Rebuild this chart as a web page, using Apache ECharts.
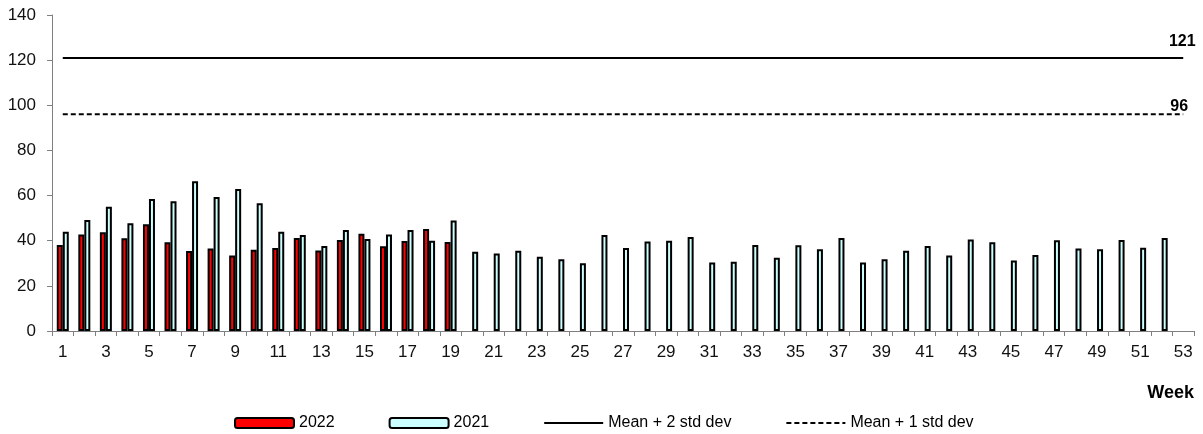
<!DOCTYPE html>
<html>
<head>
<meta charset="utf-8">
<script src="https://cdn.jsdelivr.net/npm/echarts@6/dist/echarts.min.js"></script>
<style>
html,body{margin:0;padding:0;background:#fff;}
#c{width:1203px;height:434px;}
</style>
</head>
<body>
<div id="c"></div>
<script>
const weeks = ['1','2','3','4','5','6','7','8','9','10','11','12','13','14','15','16','17','18','19','20','21','22','23','24','25','26','27','28','29','30','31','32','33','34','35','36','37','38','39','40','41','42','43','44','45','46','47','48','49','50','51','52','53'];
const y2022 = [38.1,42.8,43.7,41.1,47.3,39.3,35.4,36.6,33.4,36.0,36.8,41.2,35.7,40.3,43.1,37.5,39.9,45.2,39.4];
const y2021 = [44.0,49.2,55.1,47.7,58.5,57.5,66.3,59.4,62.9,56.6,44.0,42.5,37.7,44.7,40.8,42.7,44.8,40.0,49.0,
  35.1,34.3,35.6,32.9,31.8,30.0,42.5,36.8,39.6,40.0,41.6,30.3,30.7,38.1,32.5,38.0,36.2,41.2,30.4,31.8,35.6,37.7,33.4,40.5,39.3,31.2,33.7,40.2,36.5,36.2,40.3,36.9,41.2];
const mean2sd = 121;
const mean1sd = 96;
const yTicks = {min:0, max:140, interval:20};

const font = 'Liberation Sans, Arial, sans-serif';
const chart = echarts.init(document.getElementById('c'));

function thresholdSeries(name, value, type, labelDist, labelOffX) {
  const first = weeks[0], last = weeks[weeks.length-1];
  return {
    name: name,
    type: 'line',
    data: [[first, value], [last, value]],
    symbol: 'none',
    showSymbol: false,
    lineStyle: {color:'#000', width:2, type:type},
    itemStyle: {color:'#000'},
    markPoint: {
      silent: true,
      animation: false,
      symbol: 'rect',
      symbolSize: 0,
      label: {show:true, position:'top', distance:labelDist, offset:[labelOffX,0], color:'#000', fontWeight:'bold', fontSize:16, fontFamily:font, formatter: String(value)},
      data: [{coord:[last, value], value:value}]
    }
  };
}

chart.setOption({
  animation: false,
  textStyle: {fontFamily: font},
  grid: {left:52, right:9, top:15, bottom:103, containLabel:false},
  legend: {
    left: 234, top: 415, padding: 0,
    itemWidth: 59, itemHeight: 10, itemGap: 54,
    textStyle: {fontSize:16, color:'#000', fontFamily:font},
    data: [
      '2022', '2021',
      {name:'Mean + 2 std dev', itemStyle:{opacity:0}},
      {name:'Mean + 1 std dev', itemStyle:{opacity:0}}
    ]
  },
  graphic: [{
    type:'text', right: 9, top: 384,
    style:{text:'Week', font:'bold 18px Liberation Sans, Arial, sans-serif', fill:'#000'}
  }],
  xAxis: {
    type:'category',
    data: weeks,
    axisLine:{show:true, lineStyle:{color:'#808080', width:1}},
    axisTick:{show:true, length:5, interval:0, lineStyle:{color:'#808080'}},
    axisLabel:{interval:1, margin:13, fontSize:17, color:'#111', fontFamily:font},
    splitLine:{show:false}
  },
  yAxis: {
    type:'value',
    min: yTicks.min, max: yTicks.max, interval: yTicks.interval,
    axisLine:{show:true, lineStyle:{color:'#808080', width:1}},
    axisTick:{show:true, length:5, lineStyle:{color:'#808080'}},
    axisLabel:{margin:16, fontSize:17, color:'#111', fontFamily:font},
    splitLine:{show:false}
  },
  series: [
    {name:'2022', type:'bar', data:y2022, barWidth:6, barGap:'0%',
     itemStyle:{color:'#ff0000', borderColor:'#000', borderWidth:2}},
    {name:'2021', type:'bar', data:y2021, barWidth:6, barGap:'0%',
     itemStyle:{color:'#ccffff', borderColor:'#000', borderWidth:2}},
    thresholdSeries('Mean + 2 std dev', mean2sd, 'solid', 8, -1),
    thresholdSeries('Mean + 1 std dev', mean1sd, [5,3], 0, -4)
  ]
});
</script>
</body>
</html>
